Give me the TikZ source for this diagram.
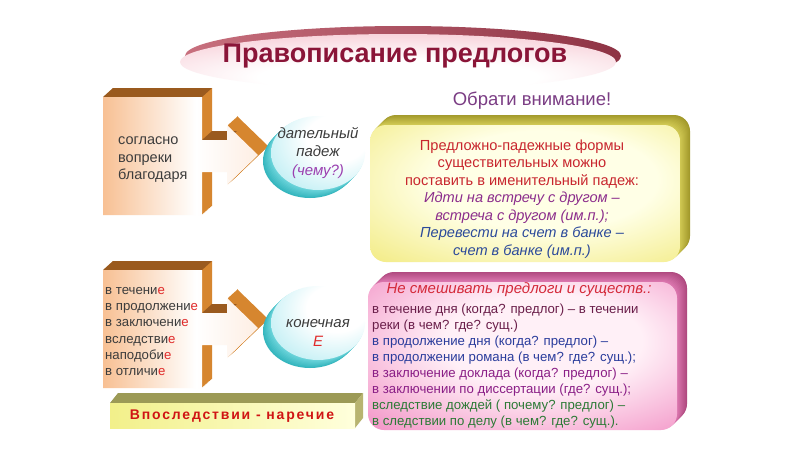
\documentclass[tikz,border=0pt]{standalone}
\usepackage{fontspec}
\setmainfont{Liberation Sans}
\definecolor{titleC}{HTML}{8A1538}
\definecolor{attnC}{HTML}{7B3D84}
\definecolor{rimL}{HTML}{C8707E}
\definecolor{rimD}{HTML}{8E3344}
\definecolor{pinkE}{HTML}{F3B4C2}
\definecolor{brownT}{HTML}{9A5A1E}
\definecolor{orangeS}{HTML}{D6862F}
\definecolor{orangeF}{HTML}{F4A15E}
\definecolor{peachF}{HTML}{FBD9C0}
\definecolor{cyanL}{HTML}{9FE6EE}
\definecolor{tealD}{HTML}{33B5BD}
\definecolor{tealL}{HTML}{6ED6DC}
\definecolor{yC}{HTML}{FFFFE6}
\definecolor{yE}{HTML}{EEE460}
\definecolor{oliveD}{HTML}{A39A2C}
\definecolor{oliveL}{HTML}{D4CC56}
\definecolor{pC}{HTML}{FFF0F7}
\definecolor{pE}{HTML}{EC62AC}
\definecolor{mauveD}{HTML}{B04A80}
\definecolor{mauveL}{HTML}{DE7AB2}
\definecolor{barTop}{HTML}{9C9A56}
\definecolor{barSide}{HTML}{B8B470}
\definecolor{barL}{HTML}{F2F08A}
\definecolor{barR}{HTML}{FFFFDC}
\definecolor{txtG}{HTML}{3C3C3C}
\definecolor{redE}{HTML}{E02A2A}
\definecolor{redY}{HTML}{C8262E}
\definecolor{purY}{HTML}{8C2E8C}
\definecolor{bluY}{HTML}{2C4A9A}
\definecolor{redP}{HTML}{D42A3A}
\definecolor{marP}{HTML}{6A1E4A}
\definecolor{bluP}{HTML}{2A3C9C}
\definecolor{purP}{HTML}{8A1E86}
\definecolor{grnP}{HTML}{2C7A36}
\definecolor{redBar}{HTML}{D01414}
\definecolor{purC}{HTML}{9B3FB0}

\pgfdeclareradialshading{titleglow}{\pgfpoint{0bp}{-16bp}}{color(0bp)=(white); color(16bp)=(white); color(50bp)=(pinkE); color(100bp)=(pinkE)}
\pgfdeclareradialshading{yglow}{\pgfpoint{4bp}{6bp}}{color(0bp)=(yC); color(18bp)=(yC); color(48bp)=(yE); color(100bp)=(yE)}
\pgfdeclareradialshading{pglow}{\pgfpoint{4bp}{6bp}}{color(0bp)=(pC); color(16bp)=(pC); color(52bp)=(pE); color(100bp)=(pE)}
\pgfdeclareradialshading{discglow}{\pgfpoint{12bp}{12bp}}{color(0bp)=(white); color(16bp)=(white); color(50bp)=(cyanL); color(100bp)=(cyanL)}
\pgfdeclarehorizontalshading{arrowglow}{100bp}{color(0bp)=(orangeF); color(10bp)=(orangeF); color(55bp)=(white); color(100bp)=(peachF)}

\newcommand\blockarrow[1]{%
  \begin{scope}[shift={(0,#1)}]
    \foreach \k in {10,...,1}{\fill[orangeS, shift={(\k,-0.9*\k)}] (103,97) -- (202,97) -- (202,140) -- (227,140) -- (227,125) -- (258,155) -- (227,185) -- (227,172) -- (202,172) -- (202,215) -- (103,215) -- cycle;}
    \fill[brownT] (103,97) -- (113,88) -- (212,88) -- (202,97) -- cycle;
    \fill[brownT] (202,140) -- (212,131) -- (237,131) -- (227,140) -- cycle;
    \shade[shading=arrowglow] (103,97) -- (202,97) -- (202,140) -- (227,140) -- (227,125) -- (258,155) -- (227,185) -- (227,172) -- (202,172) -- (202,215) -- (103,215) -- cycle;
  \end{scope}}
\newcommand\discshape[2]{%
  \foreach \k in {8,...,1}{\pgfmathtruncatemacro\pc{\k*12}\fill[tealD!\pc!tealL, shift={(-\k,\k)}] (#1,#2) ellipse [x radius=47, y radius=37];}
  \shade[shading=discglow] (#1,#2) ellipse [x radius=47, y radius=37];}

\begin{document}
\begin{tikzpicture}[x=1pt,y=-1pt, txt/.style={inner sep=0pt, align=center}]
\useasboundingbox (0,0) rectangle (800,450);
\fill[white] (0,0) rectangle (800,450);

% title
\shade[left color=rimL, right color=rimD] (403,56) ellipse [x radius=218, y radius=30];
\shade[shading=titleglow] (398,62) ellipse [x radius=218, y radius=28];
\node[txt, text=titleC, font=\fontsize{27}{30}\selectfont\bfseries] (title) at (395,56) {Правописание предлогов};
\node[txt, text=attnC, font=\fontsize{18.5}{21}\selectfont] (attn) at (532,101) {Обрати внимание!};

% block arrows
\blockarrow{0}
\blockarrow{173}

% discs
\discshape{318}{153}
\discshape{318}{323}

% yellow box
\foreach \k in {10,...,1}{\pgfmathtruncatemacro\pc{\k*10}\fill[oliveD!\pc!oliveL, rounded corners=16, shift={(\k,-\k)}] (370,125) rectangle (680,262);}
\shade[shading=yglow, rounded corners=16] (370,125) rectangle (680,262);

% pink box
\foreach \k in {10,...,1}{\pgfmathtruncatemacro\pc{\k*10}\fill[mauveD!\pc!mauveL, rounded corners=16, shift={(\k,-\k)}] (368,282) rectangle (677,430);}
\shade[shading=pglow, rounded corners=16] (368,282) rectangle (677,430);

% bar
\fill[barTop] (110,403) -- (118,393) -- (363,393) -- (355,403) -- cycle;
\fill[barSide] (355,403) -- (363,393) -- (363,418) -- (355,428) -- cycle;
\shade[left color=barL, right color=barR] (110,403) rectangle (355,428);
\node[txt, text=redBar, font=\fontsize{14}{16}\selectfont\bfseries\addfontfeature{LetterSpace=13}] (bar) at (232,416) {Впоследствии - наречие};

% texts
\node[inner sep=0pt, align=left, anchor=west, text=txtG, font=\fontsize{14.5}{17.5}\selectfont] (ltext) at (118,160) {согласно\\вопреки\\благодаря};
\node[inner sep=0pt, align=left, anchor=north west, text=txtG, font=\fontsize{13.2}{16.3}\selectfont] (btext) at (105,287) {в течени\textcolor{redE}{е}\\в продолжени\textcolor{redE}{е}\\в заключени\textcolor{redE}{е}\\вследстви\textcolor{redE}{е}\\наподоби\textcolor{redE}{е}\\в отличи\textcolor{redE}{е}};

\node[txt, text=txtG, font=\fontsize{15}{18.3}\selectfont\itshape] (dat) at (318,153) {дательный\\падеж\\\textcolor{purC}{(чему?)}};
\node[txt, text=txtG, font=\fontsize{15}{18.3}\selectfont\itshape] (kon) at (318,333) {конечная\\\textcolor{redE}{Е}};

\node[txt, font=\fontsize{14.6}{17.5}\selectfont] (ytext) at (522,199) {\textcolor{redY}{Предложно-падежные формы}\\\textcolor{redY}{существительных можно}\\\textcolor{redY}{поставить в именительный падеж:}\\\textcolor{purY}{\itshape Идти на встречу с другом –}\\\textcolor{purY}{\itshape встреча с другом (им.п.);}\\\textcolor{bluY}{\itshape Перевести на счет в банке –}\\\textcolor{bluY}{\itshape счет в банке (им.п.)}};

\node[txt, text=redP, font=\fontsize{15}{17}\selectfont\itshape] (phead) at (519,290) {Не смешивать предлоги и существ.:};
\node[inner sep=0pt, align=left, anchor=north west, font=\fontsize{13.2}{16}\selectfont] (plines) at (372,304) {\textcolor{marP}{в течение дня (когда? предлог) – в течении}\\\textcolor{marP}{реки (в чем? где? сущ.)}\\\textcolor{bluP}{в продолжение дня (когда? предлог) –}\\\textcolor{bluP}{в продолжении романа (в чем? где? сущ.);}\\\textcolor{purP}{в заключение доклада (когда? предлог) –}\\\textcolor{purP}{в заключении по диссертации (где? сущ.);}\\\textcolor{grnP}{вследствие дождей ( почему? предлог) –}\\\textcolor{grnP}{в следствии по делу (в чем? где? сущ.).}};
\end{tikzpicture}
\end{document}
